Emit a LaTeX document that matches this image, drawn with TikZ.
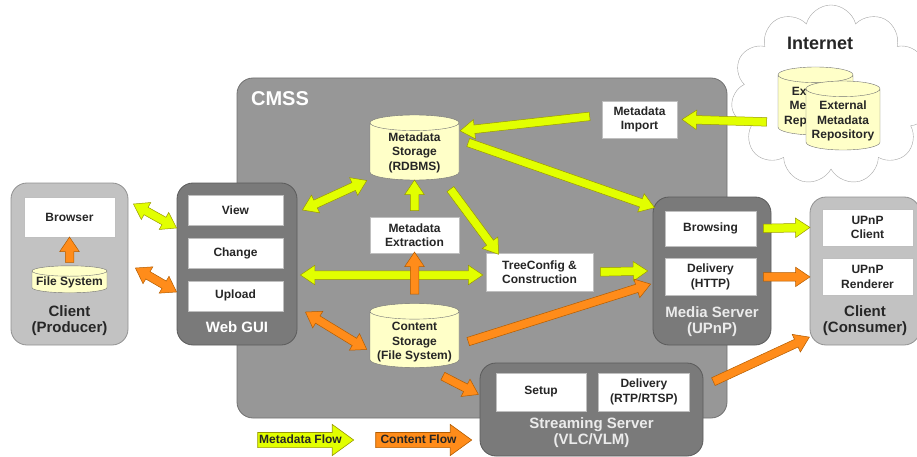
\documentclass[tikz,border=0pt]{standalone}
\usepackage{fontspec}
\setmainfont{Liberation Sans}
\usetikzlibrary{positioning, calc, shapes.geometric, shapes.arrows, shapes.symbols}

\definecolor{cmssgray}{HTML}{979797}
\definecolor{srvgray}{HTML}{7A7A7A}
\definecolor{clientgray}{HTML}{C2C2C2}
\definecolor{dbyellow}{HTML}{FFFFC8}
\definecolor{metaflow}{HTML}{E2FF00}
\definecolor{metaline}{HTML}{9A9A00}
\definecolor{contentflow}{HTML}{FF8C1A}
\definecolor{contentline}{HTML}{B35C00}

\tikzset{
  every node/.style={font=\fontsize{12}{14.5}\selectfont\bfseries, text=black!85},
  container/.style={draw=#1!75!black, fill=#1, rounded corners=16pt, line width=0.8pt},
  part/.style={draw=gray!50, fill=white, align=center, minimum width=91, minimum height=37, inner sep=0pt},
  db/.style={cylinder, shape border rotate=90, aspect=0.3, draw=gray!90!black, fill=dbyellow,
    inner sep=0pt, minimum width=89},
  dbtext/.style={align=center, inner sep=0pt},
  boxtitle/.style={font=\fontsize{15}{16}\selectfont\bfseries, align=center, anchor=south},
  flow/.style={single arrow, inner xsep=0pt, inner ysep=4pt, single arrow head extend=5.5pt,
    single arrow tip angle=68, line width=0.5pt, outer sep=0pt},
  meta/.style={flow, draw=metaline, fill=metaflow},
  cont/.style={flow, draw=contentline, fill=contentflow},
  metab/.style={meta, double arrow, double arrow head extend=5.5pt, double arrow tip angle=68},
  contb/.style={cont, double arrow, double arrow head extend=5.5pt, double arrow tip angle=68},
  legend/.style={single arrow, minimum height=96, text height=9pt, text depth=2.5pt, inner ysep=1.5pt,
    inner xsep=1pt, single arrow head extend=8pt, single arrow tip angle=72, line width=0.6pt}
}

% block arrow from #2 to #3 in style #1
\newcommand\flowarrow[3]{%
  \path let \p1=($#3-#2$), \n1={atan2(\y1,\x1)}, \n2={veclen(\x1,\y1)} in
    node[#1, minimum height=\n2, rotate=\n1] at ($#2!0.5!#3$) {};}

\begin{document}
\begin{tikzpicture}[x=1pt, y=-1pt]
\useasboundingbox (0,0) rectangle (917,457);

% internet
\node[cloud, cloud puffs=11, aspect=1.05, draw=gray!70, fill=white, minimum width=200, minimum height=180] (cloud) at (831,95) {};
\node[font=\fontsize{18}{20}\selectfont\bfseries] (inet) at (820,43) {Internet};
\node[db, minimum width=75, minimum height=68] (ext1) at (815.5,105) {\phantom{Metadata}};
\node[dbtext] (ext1txt) at ([yshift=-40]ext1.north) {External\\Metadata\\Repository};
\node[db, minimum width=74, minimum height=69] (ext2) at (843,119.5) {\phantom{Metadata}};
\node[dbtext] (ext2txt) at ([yshift=-40.5]ext2.north) {External\\Metadata\\Repository};

% big boxes
\node[container=cmssgray, minimum width=490, minimum height=340] (cmss) at (482,248) {};
\node[font=\fontsize{20}{22}\selectfont\bfseries, text=white, anchor=west] (cmsslabel) at ([xshift=11,yshift=-21]cmss.north west) {CMSS};
\node[container=clientgray, minimum width=117, minimum height=162] (client) at (69.5,264) {};
\node[container=srvgray, minimum width=120, minimum height=162] (webgui) at (237,264) {};
\node[container=srvgray, minimum width=118, minimum height=148] (media) at (712,271) {};
\node[container=clientgray, minimum width=110, minimum height=148] (consumer) at (865,271) {};
\node[container=srvgray, minimum width=223, minimum height=93] (stream) at (591.5,409.5) {};

\node[boxtitle] (clienttitle) at ([yshift=6]client.south) {Client\\(Producer)};
\node[boxtitle, text=white] (webguititle) at ([yshift=9]webgui.south) {Web GUI};
\node[boxtitle, text=white!92!black] (mediatitle) at ([yshift=5]media.south) {Media Server\\(UPnP)};
\node[boxtitle] (consumertitle) at ([yshift=6]consumer.south) {Client\\(Consumer)};
\node[boxtitle, text=white!92!black] (streamtitle) at ([yshift=5]stream.south) {Streaming Server\\(VLC/VLM)};

% parts
\node[part, minimum height=40] (browser) at (69.5,217) {Browser};
\node[db, minimum width=75, minimum height=27, aspect=0.2] (fs) at (69.5,282) {\phantom{Metadata}};
\node[dbtext] (fstxt) at ([yshift=-17]fs.north) {File System};
\node[part, minimum width=95, minimum height=30] (view) at (235.5,210) {View};
\node[part, minimum width=95, minimum height=30, below=13pt of view] (change) {Change};
\node[part, minimum width=95, minimum height=30, below=12pt of change] (upload) {Upload};

\node[db, minimum height=65] (mstore) at (414.5,151.5) {\phantom{Metadata}};
\node[dbtext] (mstoretxt) at ([yshift=-38]mstore.north) {Metadata\\Storage\\(RDBMS)};
\node[part, minimum width=75] (mimport) at (639.5,119.5) {Metadata\\Import};
\node[part, minimum width=89, minimum height=36] (mextract) at (414.5,235) {Metadata\\Extraction};
\node[part, minimum width=107, minimum height=38] (tree) at (539.5,272) {TreeConfig \&\\Construction};
\node[db, minimum height=64] (cstore) at (414.5,339.5) {\phantom{Metadata}};
\node[dbtext] (cstoretxt) at ([yshift=-39]cstore.north) {Content\\Storage\\(File System)};

\node[part, minimum height=35] (browsing) at (710.5,228.5) {Browsing};
\node[part, below=12pt of browsing] (deliv) {Delivery\\(HTTP)};
\node[part] (upnpc) at (867.5,227.5) {UPnP\\Client};
\node[part, below=12pt of upnpc] (upnpr) {UPnP\\Renderer};
\node[part, minimum width=90, minimum height=38] (setup) at (541,392) {Setup};
\node[part, minimum height=38, right=12pt of setup] (rtsp) {Delivery\\(RTP/RTSP)};

% flows
\flowarrow{metab}{([xshift=5,yshift=60]client.east)}{([yshift=36]webgui.west)}
\flowarrow{contb}{([xshift=7,yshift=-4]client.east)}{([yshift=-28]webgui.west)}
\flowarrow{cont}{(fs.north)}{([yshift=-3]browser.south)}
\flowarrow{metab}{([xshift=5,yshift=54]webgui.east)}{([xshift=-3,yshift=-29]mstore.west)}
\flowarrow{meta}{([yshift=3]mextract.north)}{([yshift=-3]mstore.south)}
\flowarrow{metab}{([xshift=3,yshift=-11]webgui.east)}{([xshift=-3,yshift=-3]tree.west)}
\flowarrow{cont}{([yshift=6]cstore.north)}{([yshift=-2]mextract.south)}
\flowarrow{meta}{([xshift=34,yshift=-35]mstore.center)}{([xshift=11,yshift=1]tree.north west)}
\flowarrow{meta}{([xshift=6,yshift=10]mstore.east)}{([xshift=-1,yshift=-10]media.north west)}
\flowarrow{meta}{([xshift=-9,yshift=3.5]mimport.west)}{([xshift=4,yshift=21]mstore.east)}
\flowarrow{meta}{([xshift=-8,yshift=-17]ext1.west)}{([xshift=8]mimport.east)}
\flowarrow{meta}{([xshift=4]tree.east)}{([xshift=-8]media.west)}
\flowarrow{cont}{([xshift=6,yshift=-3]cstore.east)}{([xshift=-5,yshift=-14]media.west)}
\flowarrow{contb}{([xshift=8,yshift=-48]webgui.east)}{([xshift=-3,yshift=-10]cstore.west)}
\flowarrow{meta}{([xshift=4]browsing.east)}{([xshift=-15]upnpc.west)}
\flowarrow{cont}{([xshift=4]deliv.east)}{([xshift=-15]upnpr.west)}
\flowarrow{cont}{([xshift=7,yshift=26.5]stream.east)}{([xshift=-3,yshift=7]consumer.south west)}
\flowarrow{cont}{([xshift=25.5,yshift=-7]cstore.south)}{([xshift=-4,yshift=16.5]stream.west)}

% legend
\node[legend, draw=metaline, fill=metaflow] (lmeta) at (300.5,440) {Metadata Flow};
\node[legend, draw=contentline, fill=contentflow] (lcont) at (418.5,440) {Content Flow};
\end{tikzpicture}
\end{document}
